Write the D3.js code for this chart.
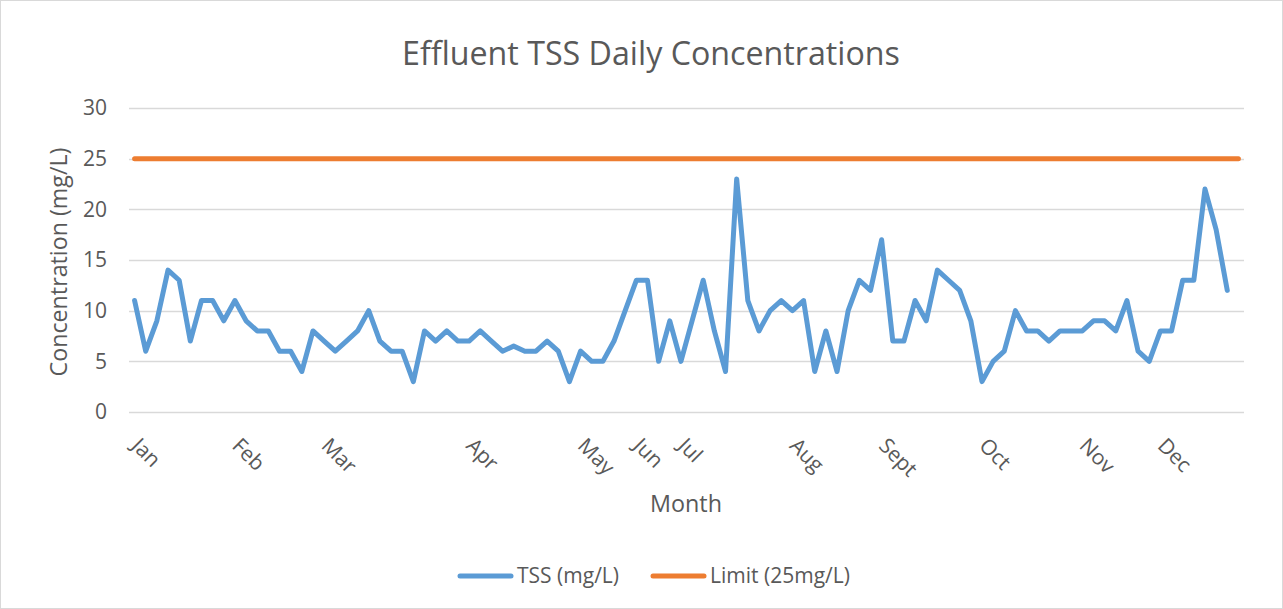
<!DOCTYPE html>
<html lang="en">
<head>
    <meta charset="UTF-8">
    <title>Effluent TSS Daily Concentrations</title>
    <script src="https://cdn.jsdelivr.net/npm/d3@7"></script>
    <style>
        body { margin: 0; background: #fff; }
        text { font-family: "Open Sans", sans-serif; fill: #595959; }
    </style>
</head>
<body>
    <script>
        // data (one sample per category)
        var tss = [11, 6, 9, 14, 13, 7, 11, 11, 9, 11, 9, 8, 8, 6, 6, 4, 8, 7, 6, 7, 8, 10, 7, 6, 6,
                   3, 8, 7, 8, 7, 7, 8, 7, 6, 6.5, 6, 6, 7, 6, 3, 6, 5, 5, 7, 10, 13, 13, 5, 9, 5,
                   9, 13, 8, 4, 23, 11, 8, 10, 11, 10, 11, 4, 8, 4, 10, 13, 12, 17, 7, 7, 11, 9, 14, 13, 12,
                   9, 3, 5, 6, 10, 8, 8, 7, 8, 8, 8, 9, 9, 8, 11, 6, 5, 8, 8, 13, 13, 22, 18, 12];
        var limit = [25, 25, 25, 25, 25, 25, 25, 25, 25, 25, 25, 25, 25, 25, 25, 25, 25, 25, 25, 25,
                     25, 25, 25, 25, 25, 25, 25, 25, 25, 25, 25, 25, 25, 25, 25, 25, 25, 25, 25, 25,
                     25, 25, 25, 25, 25, 25, 25, 25, 25, 25, 25, 25, 25, 25, 25, 25, 25, 25, 25, 25,
                     25, 25, 25, 25, 25, 25, 25, 25, 25, 25, 25, 25, 25, 25, 25, 25, 25, 25, 25, 25,
                     25, 25, 25, 25, 25, 25, 25, 25, 25, 25, 25, 25, 25, 25, 25, 25, 25, 25, 25, 25];
        var months = ["Jan", "Feb", "Mar", "Apr", "May", "Jun", "Jul", "Aug", "Sept", "Oct", "Nov", "Dec"];
        var monthStart = [0, 9, 17, 30, 40, 45, 49, 59, 67, 76, 85, 92]; // category where each label sits
        var yTicks = [0, 5, 10, 15, 20, 25, 30];
        var seriesNames = ["TSS (mg/L)", "Limit (25mg/L)"];
        var colors = ["#5B9BD5", "#ED7D31"];

        var w = 1283, h = 609;
        var plot = { left: 129, right: 1244, top: 108, bottom: 412 };

        var svg = d3.select("body").append("svg")
            .attr("width", w)
            .attr("height", h);

        // outer chart frame
        svg.append("rect")
            .attr("x", 0.5).attr("y", 0.5)
            .attr("width", w - 1).attr("height", h - 1)
            .attr("fill", "#fff")
            .attr("stroke", "#D9D9D9");

        // scale a text's font so it takes the given width
        function fitWidth(sel, target) {
            var base = parseFloat(sel.attr("font-size"));
            var len = sel.node().getComputedTextLength();
            var size = base * target / len;
            sel.attr("font-size", size);
            return size;
        }

        var categories = d3.range(limit.length);
        var x = d3.scalePoint()
            .domain(categories)
            .range([plot.left, plot.right])
            .padding(0.5);

        var y = d3.scaleLinear()
            .domain([0, 30])
            .range([plot.bottom, plot.top]);

        // gridlines
        svg.append("g")
            .selectAll("line")
            .data(yTicks)
            .enter()
            .append("line")
            .attr("x1", plot.left)
            .attr("x2", plot.right)
            .attr("y1", function(d) { return Math.round(y(d)) + 0.5; })
            .attr("y2", function(d) { return Math.round(y(d)) + 0.5; })
            .attr("stroke", "#D9D9D9")
            .attr("stroke-width", 1.3);

        // title
        var title = svg.append("text")
            .attr("x", 651)
            .attr("y", 65)
            .attr("text-anchor", "middle")
            .attr("font-size", 30)
            .text("Effluent TSS Daily Concentrations");
        fitWidth(title, 498);

        // small font size taken from the legend text width
        var probe = svg.append("text").attr("font-size", 20).text(seriesNames[1]);
        var small = fitWidth(probe, 140);
        probe.remove();

        // y axis labels
        svg.append("g")
            .selectAll("text")
            .data(yTicks)
            .enter()
            .append("text")
            .attr("x", 107)
            .attr("y", function(d) { return y(d); })
            .attr("dy", "0.35em")
            .attr("text-anchor", "end")
            .attr("font-size", small)
            .text(function(d) { return d; });

        // month labels, rotated down to the right
        svg.append("g")
            .selectAll("text")
            .data(months)
            .enter()
            .append("text")
            .attr("transform", function(d, i) {
                return "translate(" + (x(monthStart[i]) - 4) + ",447) rotate(45)";
            })
            .attr("font-size", small)
            .text(function(d) { return d; });

        // axis titles
        var xTitle = svg.append("text")
            .attr("x", 686)
            .attr("y", 512)
            .attr("text-anchor", "middle")
            .attr("font-size", 22)
            .text("Month");
        fitWidth(xTitle, 72);

        var yTitle = svg.append("text")
            .attr("transform", "translate(67,262) rotate(-90)")
            .attr("text-anchor", "middle")
            .attr("font-size", 22)
            .text("Concentration (mg/L)");
        fitWidth(yTitle, 229);

        // lines
        var line = d3.line()
            .x(function(d, i) { return x(categories[i]); })
            .y(function(d) { return y(d); });

        svg.append("path")
            .datum(limit)
            .attr("d", line)
            .attr("fill", "none")
            .attr("stroke", colors[1])
            .attr("stroke-width", 5)
            .attr("stroke-linecap", "round");

        svg.append("path")
            .datum(tss)
            .attr("d", line)
            .attr("fill", "none")
            .attr("stroke", colors[0])
            .attr("stroke-width", 5)
            .attr("stroke-linejoin", "round")
            .attr("stroke-linecap", "round");

        // legend
        var legendX = [460, 653];
        var legend = svg.append("g");
        seriesNames.forEach(function(name, i) {
            legend.append("line")
                .attr("x1", legendX[i]).attr("x2", legendX[i] + 51)
                .attr("y1", 576).attr("y2", 576)
                .attr("stroke", colors[i])
                .attr("stroke-width", 5)
                .attr("stroke-linecap", "round");
            legend.append("text")
                .attr("x", legendX[i] + 57)
                .attr("y", 576)
                .attr("dy", "0.35em")
                .attr("font-size", small)
                .text(name);
        });
    </script>
</body>
</html>
